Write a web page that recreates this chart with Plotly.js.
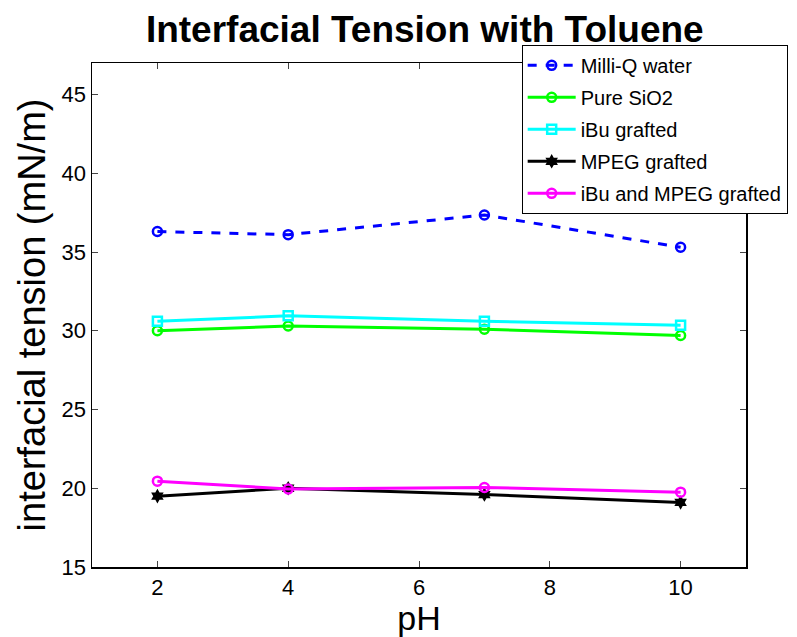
<!DOCTYPE html>
<html>
<head>
<meta charset="utf-8">
<script src="https://cdn.plot.ly/plotly-3.0.1.min.js"></script>
<style>html,body{margin:0;padding:0;background:#fff;}</style>
</head>
<body>
<div id="chart" style="width:797px;height:637px;"></div>
<script>
const pH = [2, 4, 7, 10];
const milliQ = [36.3, 36.1, 37.35, 35.3];
const pureSiO2 = [30.0, 30.3, 30.1, 29.7];
const iBuGrafted = [30.6, 30.95, 30.6, 30.35];
const mpegGrafted = [19.5, 20.0, 19.6, 19.1];
const iBuMpegGrafted = [20.45, 19.95, 20.05, 19.75];
const seriesNames = ["Milli-Q water", "Pure SiO2", "iBu grafted", "MPEG grafted", "iBu and MPEG grafted"];

const traces = [
  {x: pH, y: milliQ, name: seriesNames[0], legendgroup: 'g1', mode: 'lines+markers',
   line: {color: '#0000ff', width: 3, dash: 'dash'},
   marker: {symbol: 'circle-open', size: 9, color: '#0000ff', line: {width: 2.5}}},
  {x: pH, y: pureSiO2, name: seriesNames[1], legendgroup: 'g2', mode: 'lines+markers',
   line: {color: '#00ff00', width: 3},
   marker: {symbol: 'circle-open', size: 9, color: '#00ff00', line: {width: 2.5}}},
  {x: pH, y: iBuGrafted, name: seriesNames[2], legendgroup: 'g3', mode: 'lines+markers',
   line: {color: '#00ffff', width: 3},
   marker: {symbol: 'square-open', size: 9, color: '#00ffff', line: {width: 2.5}}},
  {x: pH, y: mpegGrafted, name: seriesNames[3], legendgroup: 'g4', mode: 'lines+markers',
   line: {color: '#000000', width: 3},
   marker: {symbol: 'hexagram', size: 11, color: '#000000'}},
  {x: pH, y: iBuMpegGrafted, name: seriesNames[4], legendgroup: 'g5', mode: 'lines+markers',
   line: {color: '#ff00ff', width: 3},
   marker: {symbol: 'circle-open', size: 9, color: '#ff00ff', line: {width: 2.5}}}
];

const layout = {
  width: 797, height: 637,
  margin: {l: 92, r: 51, t: 63, b: 70, autoexpand: false},
  paper_bgcolor: '#fff', plot_bgcolor: '#fff',
  font: {family: 'Liberation Sans, Arial, sans-serif', color: '#000'},
  title: {text: '<b>Interfacial Tension with Toluene</b>', font: {size: 37, color: '#000'},
          x: 0.533, xanchor: 'center', y: 0.955, yanchor: 'middle'},
  xaxis: {range: [1, 11], tickvals: [2, 4, 6, 8, 10], ticks: 'inside', ticklen: 6,
          showline: true, linecolor: '#000', linewidth: 1.5, mirror: 'ticks',
          showgrid: false, zeroline: false, tickfont: {size: 22}, automargin: false,
          title: {text: 'pH', font: {size: 34}, standoff: 7}},
  yaxis: {range: [15, 47], tickvals: [15, 20, 25, 30, 35, 40, 45], ticks: 'inside', ticklen: 6,
          showline: true, linecolor: '#000', linewidth: 1.5, mirror: 'ticks',
          showgrid: false, zeroline: false, tickfont: {size: 22}, automargin: false,
          title: {text: 'interfacial tension (mN/m)', font: {size: 38}, standoff: 4}},
  showlegend: true,
  legend: {x: 0.657, y: 1.036, xanchor: 'left', yanchor: 'top',
           bgcolor: '#fff', bordercolor: '#000', borderwidth: 1,
           font: {size: 20}, itemwidth: 48, tracegroupgap: 3}
};

Plotly.newPlot('chart', traces, layout, {displayModeBar: false, staticPlot: true});
</script>
</body>
</html>
